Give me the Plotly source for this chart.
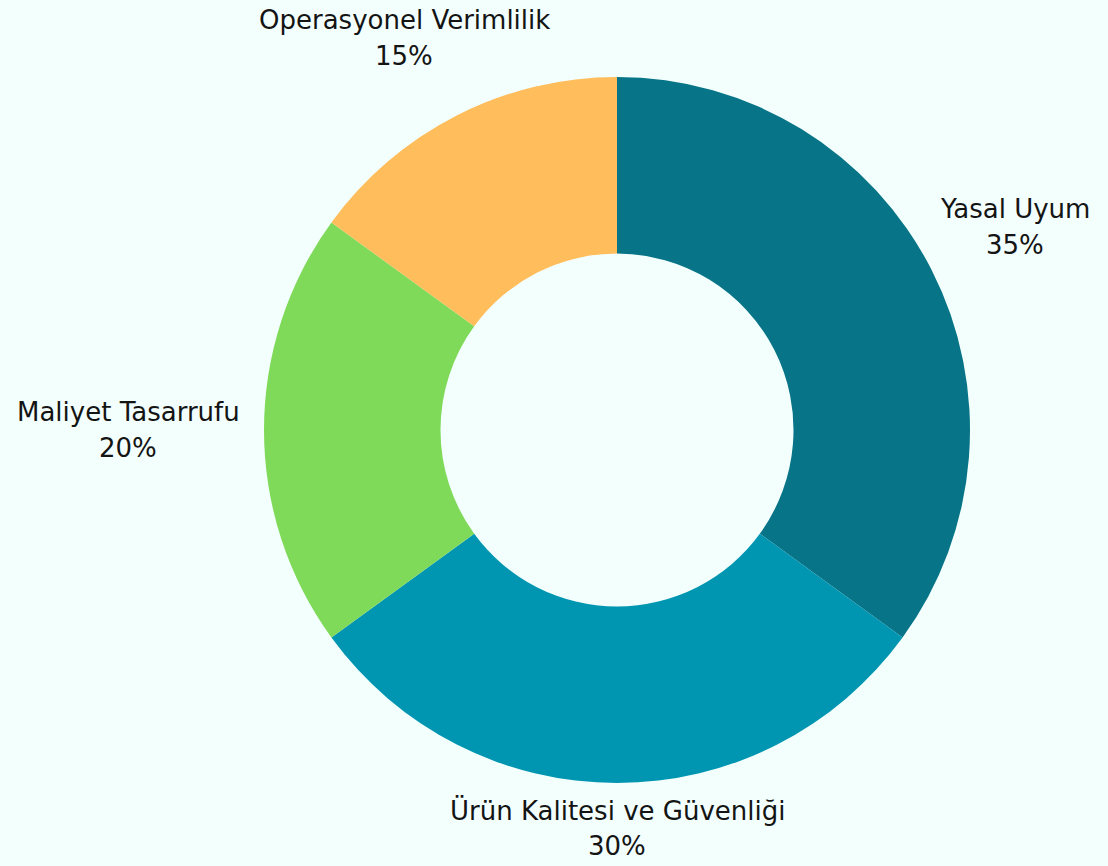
import math
import plotly.graph_objects as go

labels = ["Yasal Uyum", "Ürün Kalitesi ve Güvenliği", "Maliyet Tasarrufu", "Operasyonel Verimlilik"]
values = [35, 30, 20, 15]
colors = ["#077487", "#0096B1", "#80DA5A", "#FFBD5C"]

W, H = 1108, 866
BG = "#F3FFFD"
FONT = "DejaVu Sans, sans-serif"
FS = 26
TEXT_COLOR = "#141414"

# pie geometry (pixels)
cx, cy, R = 617, 430, 353
dom_x = [(cx - R) / W, (cx + R) / W]
dom_y = [(H - cy - R) / H, (H - cy + R) / H]

fig = go.Figure(go.Pie(
    labels=labels,
    values=values,
    hole=0.5,
    sort=False,
    direction="clockwise",
    rotation=0,
    marker=dict(colors=colors, line=dict(width=0)),
    textinfo="none",
    hoverinfo="label+percent",
    showlegend=False,
    domain=dict(x=dom_x, y=dom_y),
))

# outside labels placed along each slice's mid-angle, derived from values
total = sum(values)
char_w = 14.5
line_gap = 36
box_h = 66
gap = 14
edge = 5
cum = 0.0
for lab, v in zip(labels, values):
    mid = (cum + v / 2) / total * 2 * math.pi
    cum += v
    dx, dy = math.sin(mid), -math.cos(mid)
    w = len(lab) * char_w
    D = R + gap + abs(dx) * w / 2 + abs(dy) * box_h / 2
    x = cx + dx * D
    y = cy + dy * D
    # keep the label box inside the canvas
    y = max(y, edge + box_h / 2)
    y = min(y, H - edge - box_h / 2)
    x = max(x, edge + w / 2)
    x = min(x, W - edge - w / 2)
    pct = f"{round(v / total * 100)}%"
    for txt, shift in ((lab, line_gap / 2), (pct, -line_gap / 2)):
        fig.add_annotation(
            x=x / W, y=1 - y / H, xref="paper", yref="paper",
            text=txt, showarrow=False,
            xanchor="center", yanchor="middle", yshift=shift,
            font=dict(family=FONT, size=FS, color=TEXT_COLOR),
        )

fig.update_layout(
    width=W,
    height=H,
    paper_bgcolor=BG,
    plot_bgcolor=BG,
    margin=dict(l=0, r=0, t=0, b=0),
    font=dict(family=FONT, color=TEXT_COLOR),
)

fig.write_html(
    "out.html",
    config={"displayModeBar": False},
    post_script=f"document.body.style.margin='0';document.body.style.background='{BG}';",
)
